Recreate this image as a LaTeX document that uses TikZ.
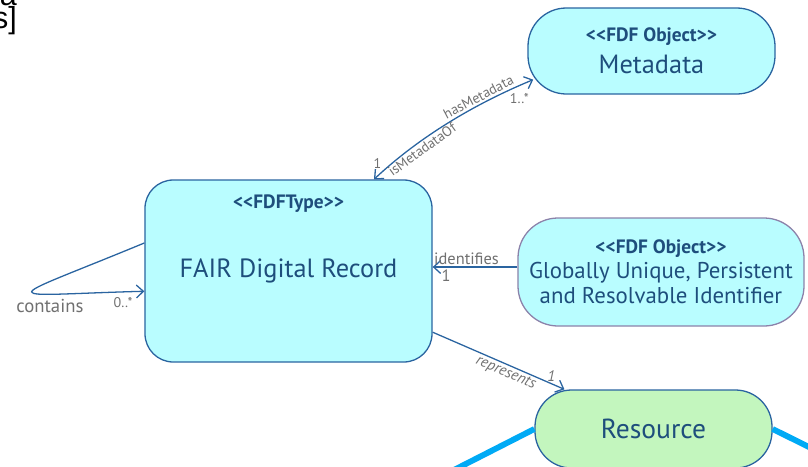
\documentclass[tikz,border=0pt]{standalone}
\usepackage{fontspec}
\setmainfont{PT Sans}
\newfontfamily\fragfont{Liberation Sans}
\usetikzlibrary{arrows.meta}

\definecolor{fdfline}{HTML}{2A64A0}
\definecolor{fdfcyan}{HTML}{B9FDFF}
\definecolor{fdfgreen}{HTML}{C3F6BE}
\definecolor{fdftext}{HTML}{1E4E7C}
\definecolor{fdfpurple}{HTML}{8C82AA}
\definecolor{fdfgrey}{HTML}{707070}
\definecolor{fdfwire}{HTML}{00AAF5}

\newcommand{\stereoname}[1]{{\bfseries\fontsize{16.5}{18}\selectfont <\kern0pt<#1>\kern0pt>}}

\tikzset{
	fdfbox/.style={draw=fdfline, line width=1.1pt, fill=fdfcyan, text=fdftext, align=center, inner sep=0pt},
	stereo/.style={text=fdftext},
	assoc/.style={draw=fdfline, line width=1.1pt},
	role/.style={text=fdfgrey, font=\fontsize{12}{13}\selectfont, inner sep=1.5pt},
	wire/.style={draw=fdfwire, line width=5pt},
	tip/.style={-{Straight Barb[length=6pt,width=11pt]}},
}

\begin{document}
\begin{tikzpicture}[x=0.03cm, y=-0.03cm]
	\useasboundingbox (0,0) rectangle (808,466);

	\node[fdfbox, minimum width=7.41cm, minimum height=2.58cm, rounded corners=1.15cm,
	      font=\fontsize{22.5}{27}\selectfont] (meta) at (651.5,51)
	      {\stereoname{FDF Object}\\Metadata};
	\node[fdfbox, minimum width=8.61cm, minimum height=5.46cm, rounded corners=0.85cm,
	      font=\fontsize{22.5}{24}\selectfont] (fdr) at (288.5,271) {FAIR Digital Record};
	\node[stereo] (fdrtype) at (288.5,204) {\stereoname{FDFType}};
	\node[fdfbox, draw=fdfpurple, minimum width=8.58cm, minimum height=3.24cm, rounded corners=1.2cm,
	      font=\fontsize{19.5}{21.5}\selectfont] (ident) at (661,272)
	      {\stereoname{FDF Object}\\Globally Unique, Persistent\\and Resolvable Identifier};
	\node[fdfbox, fill=fdfgreen, minimum width=7.11cm, minimum height=2.34cm, rounded corners=1.1cm,
	      font=\fontsize{23.5}{24}\selectfont] (res) at (653.5,429) {Resource};

	\node[anchor=south east, align=right, inner sep=0pt, font=\fragfont\fontsize{26}{20}\selectfont] (frag) at (17,35) {a\\s]};

	\draw[assoc, {Straight Barb[length=6pt,width=11pt]}-{Straight Barb[length=6pt,width=11pt]}]
	    (fdr.47) .. controls +(46,-43) and +(-58,24) .. ([xshift=5pt]meta.193)
	    node[role, pos=0.07, above left] {1}
	    node[role, pos=0.3, sloped, below] {isMetadataOf}
	    node[role, pos=0.7, sloped, above] {hasMetadata}
	    node[role, pos=0.92, below, yshift=-5pt] {1..*};

	\draw[assoc, tip] (fdr.169) .. controls +(-150,62) and +(-150,4) .. (fdr.188)
	    node[role, pos=0.7, below, yshift=-2pt, font=\fontsize{16}{18}\selectfont] {contains}
	    node[role, pos=1, below left, xshift=-8pt, yshift=-3pt] {0..*};

	\draw[assoc, tip] (ident.178) -- (fdr.east |- ident.178)
	    node[role, pos=0.6, above, font=\fontsize{14}{16}\selectfont] {identifies}
	    node[role, pos=0.84, below, font=\fontsize{14}{16}\selectfont] {1};

	\draw[assoc, tip] (fdr.-23) -- (res.156)
	    node[role, pos=0.58, sloped, below, font=\itshape\fontsize{13}{15}\selectfont] {represents}
	    node[role, pos=0.9, above, font=\itshape\fontsize{13}{15}\selectfont] {1};

	\coordinate (wireleft) at (450,472);
	\coordinate (wireright) at (815,450);
	\draw[wire] (res.west) -- (wireleft);
	\draw[wire] (res.east) -- (wireright);
\end{tikzpicture}
\end{document}
